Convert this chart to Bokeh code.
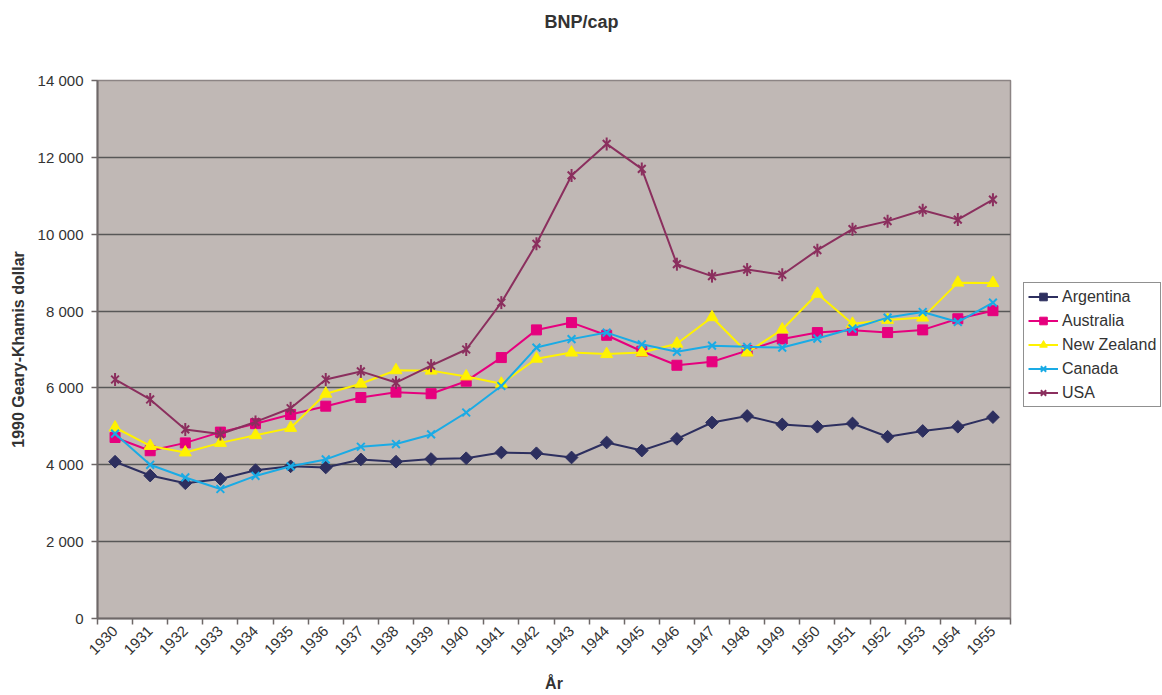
import math
from bokeh.plotting import figure
from bokeh.layouts import row
from bokeh.models import Range1d, FixedTicker, Legend, LegendItem
from bokeh.embed import file_html
from bokeh.resources import INLINE

years = list(range(1930, 1956))
argentina = [4080, 3720, 3520, 3630, 3860, 3960, 3930, 4140, 4080, 4150, 4170, 4320, 4300,
             4190, 4580, 4370, 4675, 5100, 5270, 5050, 4990, 5075, 4730, 4880, 4990, 5240]
australia = [4710, 4365, 4570, 4850, 5070, 5310, 5525, 5750, 5890, 5850, 6175, 6790, 7510,
             7700, 7370, 6955, 6590, 6680, 6970, 7275, 7440, 7500, 7440, 7510, 7800, 8010]
new_zealand = [4970, 4490, 4320, 4570, 4770, 4960, 5850, 6110, 6460, 6450, 6300, 6110, 6760,
               6920, 6880, 6920, 7150, 7840, 6920, 7520, 8450, 7670, 7770, 7830, 8740, 8730]
canada = [4810, 4000, 3670, 3370, 3710, 3960, 4140, 4470, 4540, 4790, 5360, 6050, 7050,
          7270, 7440, 7135, 6940, 7100, 7070, 7050, 7285, 7545, 7830, 7975, 7715, 8220]
usa = [6220, 5700, 4920, 4800, 5115, 5470, 6220, 6430, 6140, 6580, 7000, 8220, 9750,
       11530, 12350, 11700, 9220, 8910, 9080, 8945, 9585, 10130, 10340, 10625, 10380, 10900]
y_ticks = [0, 2000, 4000, 6000, 8000, 10000, 12000, 14000]

FONT = "Liberation Sans"
TXT = "#333333"
MAIN_W = 1012
LEG_W = 1162 - MAIN_W

p = figure(width=MAIN_W, height=695, output_backend="svg", toolbar_location=None,
           x_range=Range1d(years[0] - 0.5, years[-1] + 0.5),
           y_range=Range1d(y_ticks[0], y_ticks[-1]),
           min_border_left=97, min_border_right=2, min_border_top=80, min_border_bottom=76)

p.background_fill_color = "#C0B8B5"
p.border_fill_color = "white"
p.outline_line_color = "#8C8484"
p.outline_line_width = 1.5

# title: leading no-break spaces shift the centred text right, blank lines lift it
p.title.text = "\u00a0" * 11 + "BNP/cap\n \n "
p.title.align = "center"
p.title.standoff = 2
p.title.text_line_height = 1.2
p.title.text_font = FONT
p.title.text_font_size = "18px"
p.title.text_font_style = "bold"
p.title.text_color = TXT

# x axis
xa = p.xaxis[0]
xa.ticker = FixedTicker(ticks=years, minor_ticks=[y - 0.5 for y in years] + [years[-1] + 0.5])
xa.major_label_overrides = {y: str(y) for y in years}
xa.major_tick_out = 0
xa.major_tick_in = 0
xa.minor_tick_out = 6
xa.minor_tick_in = 0
xa.minor_tick_line_color = "#6E6868"
xa.minor_tick_line_width = 1.5
xa.axis_line_color = "#6E6868"
xa.axis_line_width = 2
xa.major_label_orientation = math.pi / 4
xa.major_label_text_font = FONT
xa.major_label_text_font_size = "15px"
xa.major_label_text_color = TXT
xa.major_label_standoff = 4
xa.axis_label = "År"
xa.axis_label_text_font = FONT
xa.axis_label_text_font_size = "16px"
xa.axis_label_text_font_style = "bold"
xa.axis_label_text_color = TXT
xa.axis_label_standoff = 13

# y axis
ya = p.yaxis[0]
ya.ticker = FixedTicker(ticks=y_ticks, minor_ticks=[])
ya.major_label_overrides = {t: f"{t:,}".replace(",", " ") for t in y_ticks}
ya.major_tick_out = 6
ya.major_tick_in = 0
ya.major_tick_line_color = "#6E6868"
ya.major_tick_line_width = 1.5
ya.axis_line_color = "#6E6868"
ya.axis_line_width = 2
ya.major_label_text_font = FONT
ya.major_label_text_font_size = "15px"
ya.major_label_text_color = TXT
ya.major_label_standoff = 8
ya.axis_label = "1990 Geary-Khamis dollar"
ya.axis_label_text_font = FONT
ya.axis_label_text_font_size = "16px"
ya.axis_label_text_font_style = "bold"
ya.axis_label_text_color = TXT
ya.axis_label_standoff = 8

p.xgrid.grid_line_color = None
p.ygrid.ticker = FixedTicker(ticks=y_ticks)
p.ygrid.grid_line_color = "#575757"
p.ygrid.grid_line_width = 1.5

# narrow companion figure that only shows the legend (its ranges keep the
# duplicate series out of view, they only supply the legend glyphs)
pl = figure(width=LEG_W, height=695, output_backend="svg", toolbar_location=None,
            x_axis_type=None, y_axis_type=None, min_border=0,
            x_range=Range1d(0, 1), y_range=Range1d(0, 1))
pl.outline_line_color = None
pl.background_fill_color = "white"
pl.border_fill_color = "white"

series = [
    ("Argentina", argentina, "#2D2F5F"),
    ("Australia", australia, "#E6007E"),
    ("New Zealand", new_zealand, "#FFF200"),
    ("Canada", canada, "#1AABE5"),
    ("USA", usa, "#8B2F5E"),
]


def draw(fig, xs, vals, name, col):
    rl = fig.line(xs, vals, line_color=col, line_width=2)
    rs = []
    if name == "Argentina":
        rs.append(fig.scatter(xs, vals, marker="square", angle=math.pi / 4, size=9,
                              fill_color=col, line_color=col))
    elif name == "Australia":
        rs.append(fig.scatter(xs, vals, marker="square", size=10, fill_color=col, line_color=col))
    elif name == "New Zealand":
        rs.append(fig.scatter(xs, vals, marker="triangle", size=12, fill_color=col, line_color=col))
    elif name == "Canada":
        rs.append(fig.scatter(xs, vals, marker="x", size=11, line_color=col, line_width=2))
    else:
        rs.append(fig.scatter(xs, vals, marker="x", size=11, line_color=col, line_width=2))
        rs.append(fig.scatter(xs, vals, marker="dash", angle=math.pi / 2, size=13,
                              line_color=col, line_width=2))
    return [rl] + rs


items = []
for name, vals, col in series:
    draw(p, years, vals, name, col)
    items.append(LegendItem(label=name, renderers=draw(pl, years, vals, name, col)))

legend = Legend(items=items, location=(11, 211))
legend.label_text_font = FONT
legend.label_text_font_size = "16px"
legend.label_text_color = TXT
legend.glyph_width = 30
legend.glyph_height = 19
legend.label_height = 19
legend.label_standoff = 4
legend.spacing = 5
legend.padding = 4
legend.margin = 0
legend.border_line_color = "#222222"
legend.border_line_width = 1
legend.background_fill_color = "white"
legend.background_fill_alpha = 1
pl.add_layout(legend)

layout = row(p, pl)
open("out.html", "w").write(file_html(layout, INLINE))
